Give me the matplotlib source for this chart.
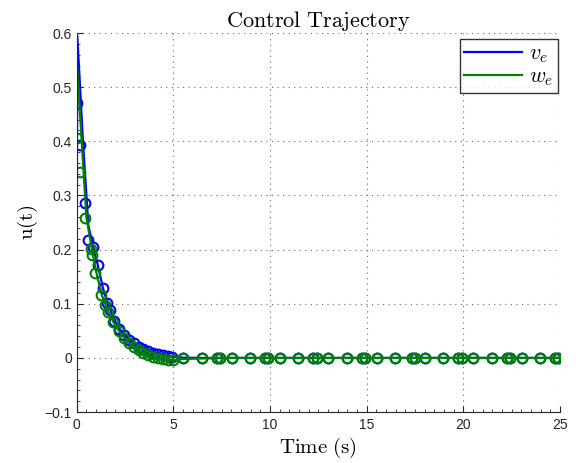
import matplotlib
matplotlib.use("Agg")
import matplotlib.pyplot as plt
from matplotlib.ticker import MultipleLocator, FuncFormatter

plt.rcParams['mathtext.fontset'] = 'cm'
plt.rcParams['font.family'] = ['Liberation Sans', 'DejaVu Sans']

# ---- data ----
# continuous lines
t_v_line = [0, 0.03, 0.34, 0.6, 0.85, 1.1, 1.35, 1.6, 1.75, 2.0, 2.25, 2.5, 2.75, 3.0, 3.5, 4.0, 4.5, 5.0, 5.5, 6.5, 8, 10, 25]
v_line = [0.195, 0.594, 0.39, 0.245, 0.205, 0.17, 0.13, 0.1, 0.088, 0.067, 0.052, 0.041, 0.033, 0.026, 0.017, 0.01, 0.006, 0.002, 0.0005, 0.0, 0.0, 0.0, 0.0]
t_w_line = [0, 0.02, 0.5, 0.8, 1.0, 1.3, 1.6, 1.9, 2.2, 2.5, 3.0, 3.5, 4.0, 4.5, 5.0, 5.5, 6.5, 8, 25]
w_line = [0.335, 0.538, 0.26, 0.198, 0.16, 0.116, 0.088, 0.066, 0.049, 0.035, 0.018, 0.007, 0.0, -0.003, -0.004, -0.002, -0.001, 0.0, 0.0]

# marker samples
t_tail = [5.52, 6.47, 7.24, 7.41, 8.02, 8.97, 9.74, 9.91, 10.52, 11.47, 12.24, 12.41,
          13.02, 13.97, 14.74, 14.91, 15.52, 16.47, 17.33, 17.50, 18.02, 18.97, 19.74, 19.92,
          20.52, 21.47, 22.24, 22.41, 23.02, 23.97, 24.74, 24.92]
t_v_mark = [0, 0.19, 0.43, 0.6, 0.84, 1.09, 1.34, 1.58, 1.70, 1.95, 2.2, 2.45, 2.7, 2.95,
            3.2, 3.45, 3.7, 3.95, 4.2, 4.45, 4.7, 4.95] + t_tail
v_mark = [0.471, 0.393, 0.286, 0.218, 0.205, 0.172, 0.129, 0.101, 0.089, 0.068, 0.053, 0.042,
          0.034, 0.027, 0.021, 0.017, 0.013, 0.01, 0.008, 0.006, 0.004, 0.002] + [0.0] * len(t_tail)
t_w_mark = [0, 0.15, 0.43, 0.72, 0.78, 0.95, 1.27, 1.45, 1.61, 1.87, 2.18, 2.45, 2.7, 2.95,
            3.2, 3.45, 3.7, 3.95, 4.2, 4.45, 4.7, 5.0] + t_tail
w_mark = [0.407, 0.344, 0.258, 0.202, 0.190, 0.157, 0.116, 0.098, 0.085, 0.067, 0.049, 0.037,
          0.028, 0.02, 0.014, 0.009, 0.005, 0.002, 0.0, -0.002, -0.003, -0.004] + [-0.001] * 2 + [0.0] * (len(t_tail) - 2)

blue = (0, 0, 1)
green = (0, 0.5, 0)

fig = plt.figure(figsize=(5.79, 4.63), dpi=100)
ax = fig.add_axes([0.1325, 0.110, 0.8345, 0.8187])

ax.plot(t_v_line, v_line, color=blue, lw=1.6, label=r'$v_e$')
ax.plot(t_v_mark, v_mark, linestyle='none', marker='o', ms=7, mfc='none', mec=blue, mew=1.5)
ax.plot(t_w_line, w_line, color=green, lw=1.6, label=r'$w_e$')
ax.plot(t_w_mark, w_mark, linestyle='none', marker='o', ms=7, mfc='none', mec=green, mew=1.5)

ax.set_xlim(0, 25)
ax.set_ylim(-0.1, 0.6)
ax.xaxis.set_major_locator(MultipleLocator(5))
ax.xaxis.set_minor_locator(MultipleLocator(0.5))
ax.yaxis.set_major_locator(MultipleLocator(0.1))
ax.yaxis.set_minor_locator(MultipleLocator(0.02))
ax.yaxis.set_major_formatter(FuncFormatter(
    lambda v, p: ('\u2212' if v < -1e-9 else '') + ('0' if abs(v) < 1e-9 else f'{abs(v):.1f}')))

for s in ['top', 'right']:
    ax.spines[s].set_visible(False)
for s in ['left', 'bottom']:
    ax.spines[s].set_color('0.15')
    ax.spines[s].set_linewidth(0.8)
ax.tick_params(which='both', direction='in', top=False, right=False, labelsize=10, colors='0.15')
ax.tick_params(which='major', length=4)
ax.tick_params(which='minor', length=2)
ax.tick_params(axis='x', pad=4)

ax.grid(True, which='major', color='0.4', linestyle=(0, (1, 4)), linewidth=0.8)

ax.set_title(r'$\mathrm{Control\ Trajectory}$', fontsize=16, pad=1)
ax.set_xlabel(r'$\mathrm{Time\ (s)}$', fontsize=15, labelpad=3)
ax.set_ylabel(r'$\mathrm{u(t)}$', fontsize=15, labelpad=3)

leg = ax.legend(loc='upper right', bbox_to_anchor=(1.0, 0.99), fontsize=16, frameon=True, fancybox=False,
                handlelength=2.6, handletextpad=0.3, borderpad=0.2, labelspacing=0.05,
                borderaxespad=0.1)
leg.get_frame().set_edgecolor('black')
leg.get_frame().set_linewidth(1.0)

fig.savefig('out.png', dpi=100)
